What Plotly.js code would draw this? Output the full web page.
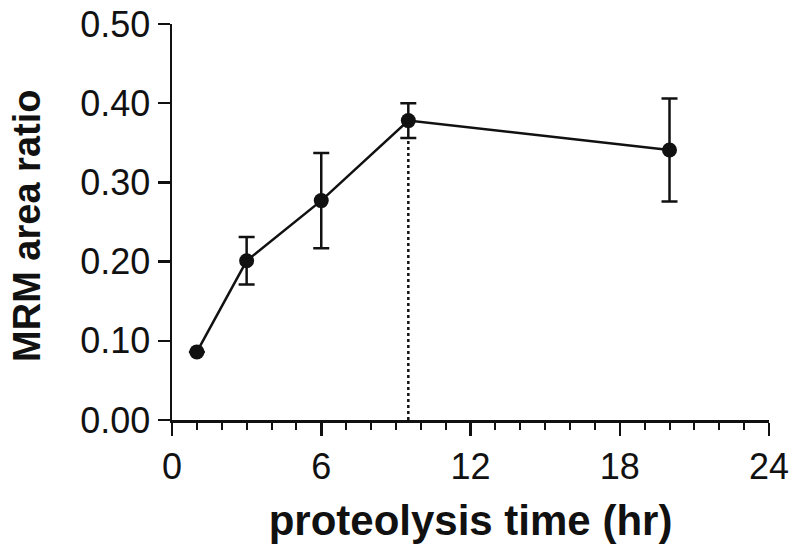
<!DOCTYPE html>
<html>
<head>
<meta charset="utf-8">
<script src="https://cdn.plot.ly/plotly-3.0.1.min.js"></script>
<style>html,body{margin:0;padding:0;background:#fff;}#chart{width:800px;height:559px;}</style>
</head>
<body>
<div id="chart"></div>
<script>
// Data
var timeHr = [1, 3, 6, 9.5, 20];
var areaRatio = [0.086, 0.201, 0.277, 0.378, 0.341];
var errRatio = [0, 0.030, 0.060, 0.022, 0.065];
var markerIndex = 3; // dotted drop line at the maximum point
var xTickVals = [0, 6, 12, 18, 24];
var yTickVals = [0, 0.1, 0.2, 0.3, 0.4, 0.5];
var yTickText = ["0.00", "0.10", "0.20", "0.30", "0.40", "0.50"];
var xTitle = 'proteolysis time (hr)';
var yTitle = 'MRM area ratio';

var ink = '#111111';
var dropX = [timeHr[markerIndex], timeHr[markerIndex]];
var dropY = [0, areaRatio[markerIndex] - errRatio[markerIndex]];

var traces = [
  {
    x: dropX, y: dropY, type: 'scatter', mode: 'lines',
    line: {color: ink, width: 2.5, dash: '3px,3px'},
    hoverinfo: 'skip', showlegend: false
  },
  {
    x: timeHr, y: areaRatio, type: 'scatter', mode: 'lines+markers',
    line: {color: ink, width: 2.5},
    marker: {color: ink, size: 15},
    error_y: {type: 'data', array: errRatio, visible: true, color: ink, thickness: 2.5, width: 8},
    showlegend: false
  }
];

var layout = {
  width: 800, height: 559,
  paper_bgcolor: '#ffffff', plot_bgcolor: '#ffffff',
  margin: {l: 172, r: 31, t: 24, b: 139},
  font: {family: 'Liberation Sans, Arial, sans-serif', color: ink},
  xaxis: {
    range: [0, 24], tickvals: xTickVals, ticktext: xTickVals.map(String),
    showgrid: false, zeroline: false, showline: true, linecolor: ink, linewidth: 2.5,
    ticks: 'outside', ticklen: 13, tickwidth: 2.5, tickcolor: ink,
    tickfont: {size: 36, color: ink},
    minor: {dtick: 1, ticks: 'outside', ticklen: 7, tickwidth: 2, tickcolor: ink, showgrid: false},
    title: {text: '<b>' + xTitle + '</b>', font: {size: 42, color: ink}, standoff: 20},
    fixedrange: true
  },
  yaxis: {
    range: [0, 0.5], tickvals: yTickVals, ticktext: yTickText,
    showgrid: false, zeroline: false, showline: true, linecolor: ink, linewidth: 2.5,
    ticks: 'outside', ticklen: 12, tickwidth: 2.5, tickcolor: ink,
    tickfont: {size: 36, color: ink},
    fixedrange: true
  },
  annotations: [{
    text: '<b>' + yTitle + '</b>', textangle: -90,
    xref: 'paper', yref: 'paper', x: 0, y: 0.49, xanchor: 'center', yanchor: 'middle',
    xshift: -145, showarrow: false,
    font: {size: 38, color: ink}
  }]
};

Plotly.newPlot('chart', traces, layout, {displayModeBar: false, staticPlot: true});
</script>
</body>
</html>
